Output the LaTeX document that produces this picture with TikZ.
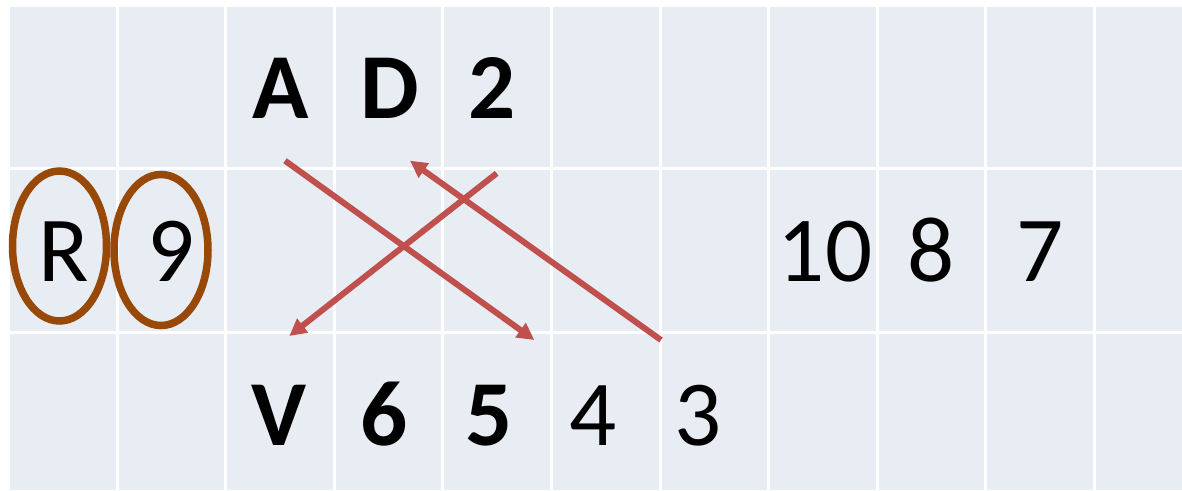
\documentclass[tikz,border=0pt]{standalone}
\usepackage{fontspec}
\setmainfont{Carlito}
\usetikzlibrary{arrows.meta}
\definecolor{cellfill}{HTML}{E8ECF3}
\definecolor{ringbrown}{HTML}{984807}
\definecolor{arrowred}{HTML}{C0504D}
\tikzset{
  lbl/.style={anchor=base, inner sep=0pt, font=\fontsize{93}{110}\selectfont},
  blbl/.style={lbl, font=\fontsize{93}{110}\selectfont\bfseries},
  ring/.style={draw=ringbrown, line width=7.5pt},
  link/.style={draw=arrowred, line width=6pt, -{Triangle[length=17pt,width=17pt]}},
  gridline/.style={draw=white, line width=3pt}
}
\begin{document}
\begin{tikzpicture}[x=1pt,y=-1pt]
\useasboundingbox (0,0) rectangle (1182,490);
\fill[white] (0,0) rectangle (1182,490);
\fill[cellfill] (10,7) rectangle (1182,490);
\foreach \i in {0,...,9} {
  \draw[gridline] ({117.3+108.55*\i},7) -- ({117.3+108.55*\i},490);
}
\draw[gridline] (10,168) -- (1182,168);
\draw[gridline] (10,332) -- (1182,332);
% top row
\node[blbl] (A) at (281,118) {A};
\node[blbl] (D) at (390,118) {D};
\node[blbl] (two) at (492,118) {2};
% middle row
\node[lbl] (R) at (64,281) {R};
\node[lbl] (nine) at (171.5,281) {9};
\node[lbl] (ten) at (825,281) {10};
\node[lbl] (eight) at (931.5,281) {8};
\node[lbl] (seven) at (1040,281) {7};
% bottom row
\node[blbl] (V) at (278.5,445) {V};
\node[blbl] (six) at (384,445) {6};
\node[blbl] (five) at (489,445) {5};
\node[lbl] (four) at (593,445) {4};
\node[lbl] (three) at (698.5,445) {3};
% rings
\draw[ring] (59.5,246) ellipse [x radius=47, y radius=75];
\draw[ring] (161,250) ellipse [x radius=47, y radius=75.5];
% arrow end points
\coordinate (a1s) at (285,160.7);
\coordinate (a1e) at (534.3,340);
\coordinate (a2s) at (496.7,173.3);
\coordinate (a2e) at (289.3,336);
\coordinate (a3s) at (661,340);
\coordinate (a3e) at (410,160.7);
\draw[link] (a1s) -- (a1e);
\draw[link] (a2s) -- (a2e);
\draw[link] (a3s) -- (a3e);
\end{tikzpicture}
\end{document}
